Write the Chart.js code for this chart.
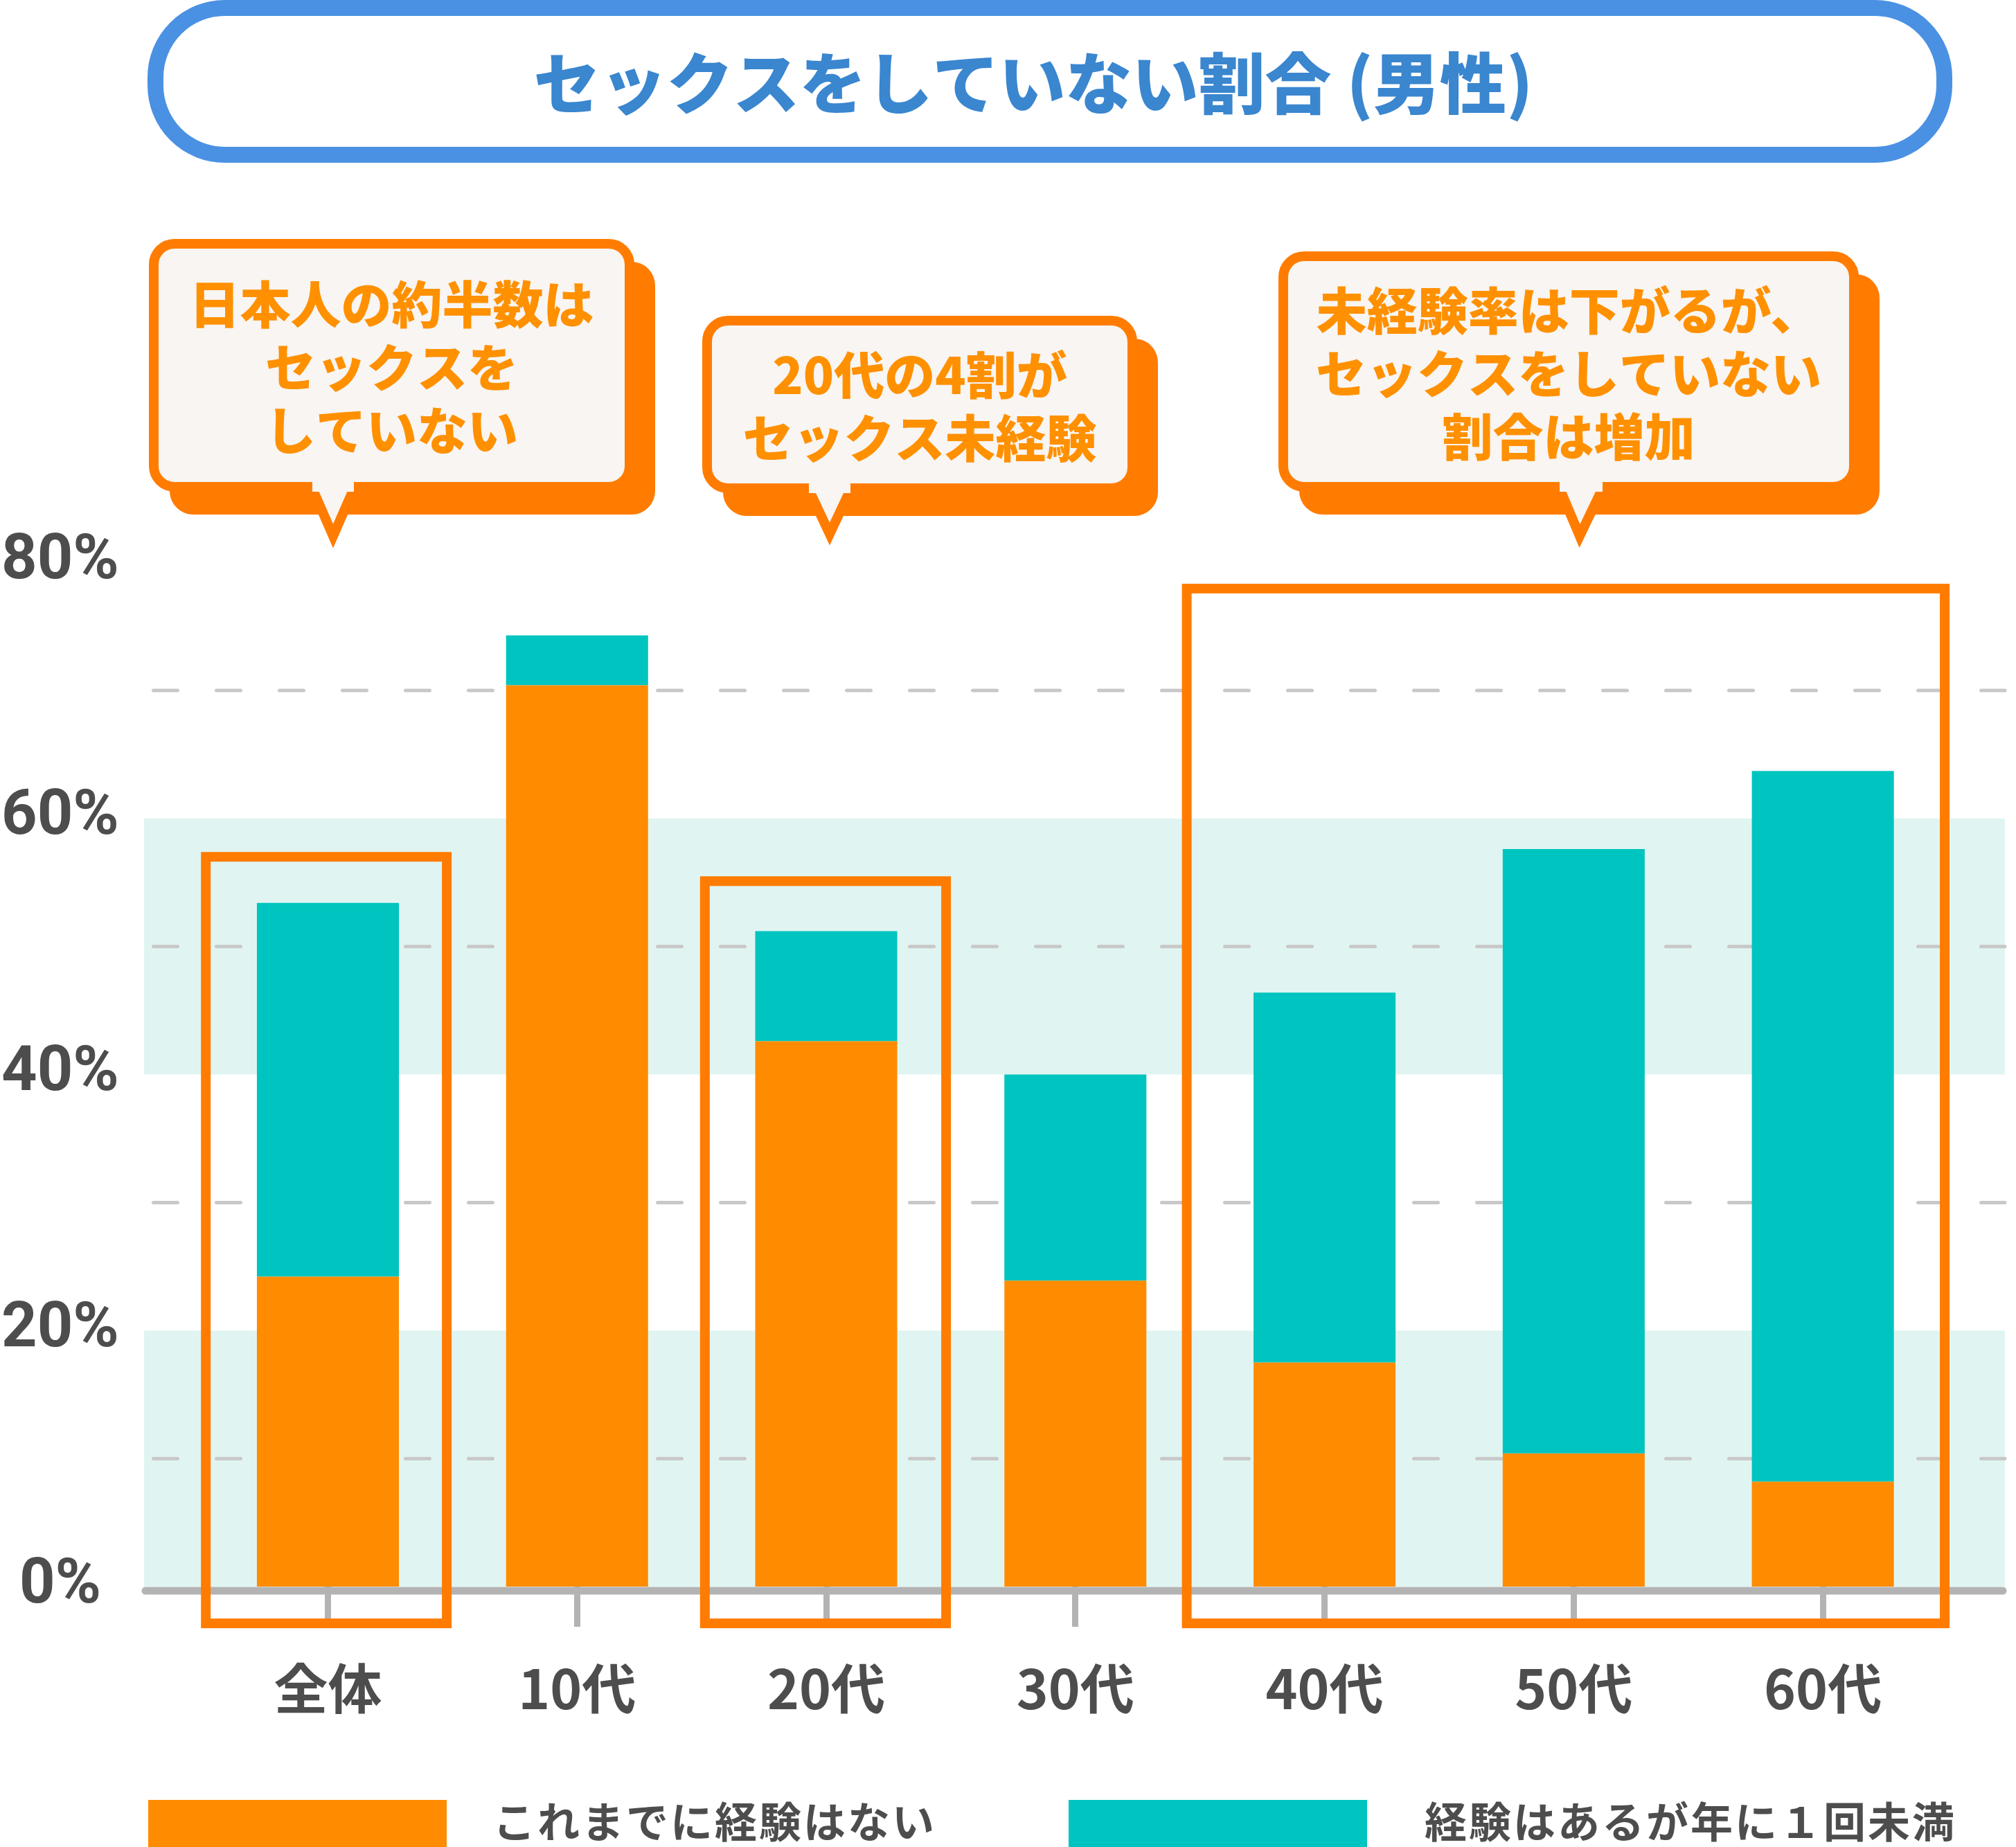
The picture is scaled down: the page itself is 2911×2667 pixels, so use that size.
<!DOCTYPE html>
<html><head><meta charset="utf-8">
<script src="https://cdn.jsdelivr.net/npm/chart.js@4"></script>
<style>html,body{margin:0;padding:0;background:#fff;}canvas{display:block;}</style>
</head><body>
<canvas id="c" width="2911" height="2667"></canvas>
<script>
// ---- data ----
const categories = ['全体', '10代', '20代', '30代', '40代', '50代', '60代'];
const neverExperienced = [24.2, 70.4, 42.6, 23.9, 17.5, 10.4, 8.2];
const lessThanOncePerYear = [29.2, 3.9, 8.6, 16.1, 28.9, 47.2, 55.5];
const seriesLabels = ['これまでに経験はない', '経験はあるが年に１回未満'];
const yTickStep = 10;
const yMax = 80;
const titleText = 'セックスをしていない割合 (男性)';
const calloutTexts = [
  ['日本人の約半数は', 'セックスを', 'していない'],
  ['20代の4割が', 'セックス未経験'],
  ['未経験率は下がるが、', 'セックスをしていない', '割合は増加']
];

// ---- layout / style (not data) ----
const FONT = '"Noto Sans CJK JP", "Noto Sans", sans-serif';
const Y_FONT = 'Roboto, "Noto Sans", sans-serif';
const C_ORANGE = '#ff8c00', C_TEAL = '#00c4bf', C_BAND = '#e0f5f2';
const C_HL = '#ff7c00', C_TXT = '#4d4d4d', C_BLUE = '#4a91e3', C_BLUE_T = '#3a86cf';
const Y_LABEL_CENTER = 87, Y_AXIS_W = 293.6;
const bandRanges = [[0, 20], [40, 60]];
const dashedValues = [10, 30, 50, 70];
const highlightBoxes = [
  {from: 0, to: 0, l: -0.49, r: 0.477, top: 57.0, bottom: -2.87},
  {from: 2, to: 2, l: -0.487, r: 0.481, top: 55.1, bottom: -2.87},
  {from: 4, to: 6, l: -0.553, r: 0.489, top: 77.95, bottom: -2.87}
];
const calloutGeo = [
  {x0: 215, y0: 345, x1: 916, y1: 710, bl: 443, br: 519, tx: 481, ty: 793},
  {x0: 1014, y0: 456, x1: 1642, y1: 712, bl: 1160, br: 1236, tx: 1198, ty: 790},
  {x0: 1846, y0: 363, x1: 2684, y1: 710, bl: 2244, br: 2322, tx: 2281, ty: 793}
];
const legendGeo = [{x: 214, tx: 712}, {x: 1543, tx: 2057}];

function rr(ctx, x0, y0, x1, y1, r) {
  ctx.beginPath();
  ctx.moveTo(x0 + r, y0);
  ctx.lineTo(x1 - r, y0); ctx.arcTo(x1, y0, x1, y0 + r, r);
  ctx.lineTo(x1, y1 - r); ctx.arcTo(x1, y1, x1 - r, y1, r);
  ctx.lineTo(x0 + r, y1); ctx.arcTo(x0, y1, x0, y1 - r, r);
  ctx.lineTo(x0, y0 + r); ctx.arcTo(x0, y0, x0 + r, y0, r);
  ctx.closePath();
}

const decor = {
  id: 'decor',
  beforeDraw(chart) {
    const ctx = chart.ctx;
    ctx.save();
    ctx.fillStyle = '#fff';
    ctx.fillRect(0, 0, chart.width, chart.height);
    // title pill
    rr(ctx, 224.5, 11.5, 2807.5, 223.5, 100);
    ctx.fillStyle = '#fff'; ctx.fill();
    ctx.lineWidth = 23; ctx.strokeStyle = C_BLUE; ctx.stroke();
    ctx.fillStyle = C_BLUE_T;
    ctx.font = '900 96px ' + FONT;
    ctx.textAlign = 'center'; ctx.textBaseline = 'middle';
    ctx.fillText(titleText, 1492, 120);
    // callouts
    calloutGeo.forEach((g, i) => {
      const lw = 14, h = lw / 2;
      rr(ctx, g.x0 + 30, g.y0 + 33, g.x1 + 30, g.y1 + 33, 34);
      ctx.fillStyle = C_HL; ctx.fill();
      rr(ctx, g.x0 + h, g.y0 + h, g.x1 - h, g.y1 - h, 30);
      ctx.fillStyle = '#f8f5f2'; ctx.fill();
      ctx.lineWidth = lw; ctx.strokeStyle = C_HL; ctx.stroke();
      // tail
      ctx.beginPath();
      ctx.moveTo(g.bl + h, g.y1 - h);
      ctx.lineTo(g.tx, g.ty - 19);
      ctx.lineTo(g.br - h, g.y1 - h);
      ctx.lineJoin = 'miter';
      ctx.fillStyle = '#f8f5f2'; ctx.fill();
      ctx.stroke();
      ctx.fillRect(g.bl + h + 1, g.y1 - lw - 2, g.br - g.bl - lw - 2, lw + 2);
      // text
      const lines = calloutTexts[i];
      const cx = (g.x0 + g.x1) / 2, cy = (g.y0 + g.y1) / 2 + 3;
      const lh = 91;
      ctx.fillStyle = '#ff9000';
      ctx.font = '900 73px ' + FONT;
      ctx.textAlign = 'center'; ctx.textBaseline = 'middle';
      lines.forEach((t, k) => {
        ctx.fillText(t, cx, cy + (k - (lines.length - 1) / 2) * lh);
      });
    });
    ctx.restore();
  },
  beforeDatasetsDraw(chart) {
    const ctx = chart.ctx, y = chart.scales.y;
    ctx.save();
    ctx.fillStyle = C_BAND;
    bandRanges.forEach(([a, b]) => {
      const ya = y.getPixelForValue(a), yb = y.getPixelForValue(b);
      ctx.fillRect(208, yb, 2895 - 208, ya - yb);
    });
    ctx.strokeStyle = '#c8c8c8'; ctx.lineWidth = 5; ctx.lineCap = 'round';
    ctx.setLineDash([35, 56]);
    dashedValues.forEach(v => {
      const py = y.getPixelForValue(v);
      ctx.beginPath(); ctx.moveTo(221.5, py); ctx.lineTo(2895, py); ctx.stroke();
    });
    ctx.restore();
  },
  afterDatasetsDraw(chart) {
    const ctx = chart.ctx, x = chart.scales.x, y = chart.scales.y;
    ctx.save();
    // axis line
    ctx.strokeStyle = '#b3b3b3'; ctx.lineWidth = 11; ctx.lineCap = 'round';
    const ay = y.getPixelForValue(0) + 6;
    ctx.beginPath(); ctx.moveTo(210, ay); ctx.lineTo(2892, ay); ctx.stroke();
    // highlight boxes
    const cw = x.getPixelForValue(1) - x.getPixelForValue(0);
    ctx.strokeStyle = C_HL; ctx.lineWidth = 14; ctx.lineCap = 'butt'; ctx.lineJoin = 'miter';
    highlightBoxes.forEach(b => {
      const x0 = x.getPixelForValue(b.from) + b.l * cw;
      const x1 = x.getPixelForValue(b.to) + b.r * cw;
      const y0 = y.getPixelForValue(b.top), y1 = y.getPixelForValue(b.bottom);
      ctx.strokeRect(x0, y0, x1 - x0, y1 - y0);
    });
    // legend
    ctx.font = '700 61px ' + FONT;
    ctx.textAlign = 'left'; ctx.textBaseline = 'middle';
    if ('letterSpacing' in ctx) ctx.letterSpacing = '3px';
    chart.data.datasets.forEach((ds, i) => {
      const g = legendGeo[i];
      ctx.fillStyle = ds.backgroundColor;
      ctx.fillRect(g.x, 2599, 431, 75);
      ctx.fillStyle = C_TXT;
      ctx.fillText(ds.label, g.tx, 2631);
    });
    ctx.restore();
  }
};

// measure widest y label so labels are centred at Y_LABEL_CENTER
const Y_FONT_SIZE = 90;
const mctx = document.createElement('canvas').getContext('2d');
mctx.font = '700 ' + Y_FONT_SIZE + 'px ' + Y_FONT;
const yLabelW = Math.max(...[0, 20, 40, 60, 80].map(v => mctx.measureText(v + '%').width));
const yPad = Y_AXIS_W - Y_LABEL_CENTER - yLabelW / 2;

new Chart(document.getElementById('c'), {
  type: 'bar',
  data: {
    labels: categories,
    datasets: [
      {label: seriesLabels[0], data: neverExperienced, backgroundColor: C_ORANGE, borderWidth: 0},
      {label: seriesLabels[1], data: lessThanOncePerYear, backgroundColor: C_TEAL, borderWidth: 0}
    ]
  },
  options: {
    responsive: false,
    devicePixelRatio: 1,
    animation: false,
    layout: {padding: {left: 0, right: 99, top: 812, bottom: 176}},
    datasets: {bar: {barPercentage: 0.57, categoryPercentage: 1}},
    plugins: {legend: {display: false}, tooltip: {enabled: false}, title: {display: false}},
    scales: {
      x: {
        stacked: true,
        offset: true,
        border: {display: false},
        grid: {display: true, offset: false, drawOnChartArea: false, drawTicks: true,
               tickLength: 58, tickWidth: 9, tickColor: '#b3b3b3'},
        ticks: {padding: 43, color: C_TXT, font: {family: FONT, size: 78, weight: '700'}, maxRotation: 0, autoSkip: false},
        afterFit(s) { s.height = 200; }
      },
      y: {
        stacked: true,
        min: 0, max: yMax,
        border: {display: false},
        grid: {display: false, drawTicks: false},
        ticks: {stepSize: yTickStep, padding: yPad, crossAlign: 'center', color: C_TXT,
                font: {family: Y_FONT, size: Y_FONT_SIZE, weight: '700'},
                callback: v => (v % 20 === 0 ? v + '%' : '')},
        afterFit(s) { s.width = Y_AXIS_W; }
      }
    }
  },
  plugins: [decor]
});
</script>
</body></html>
